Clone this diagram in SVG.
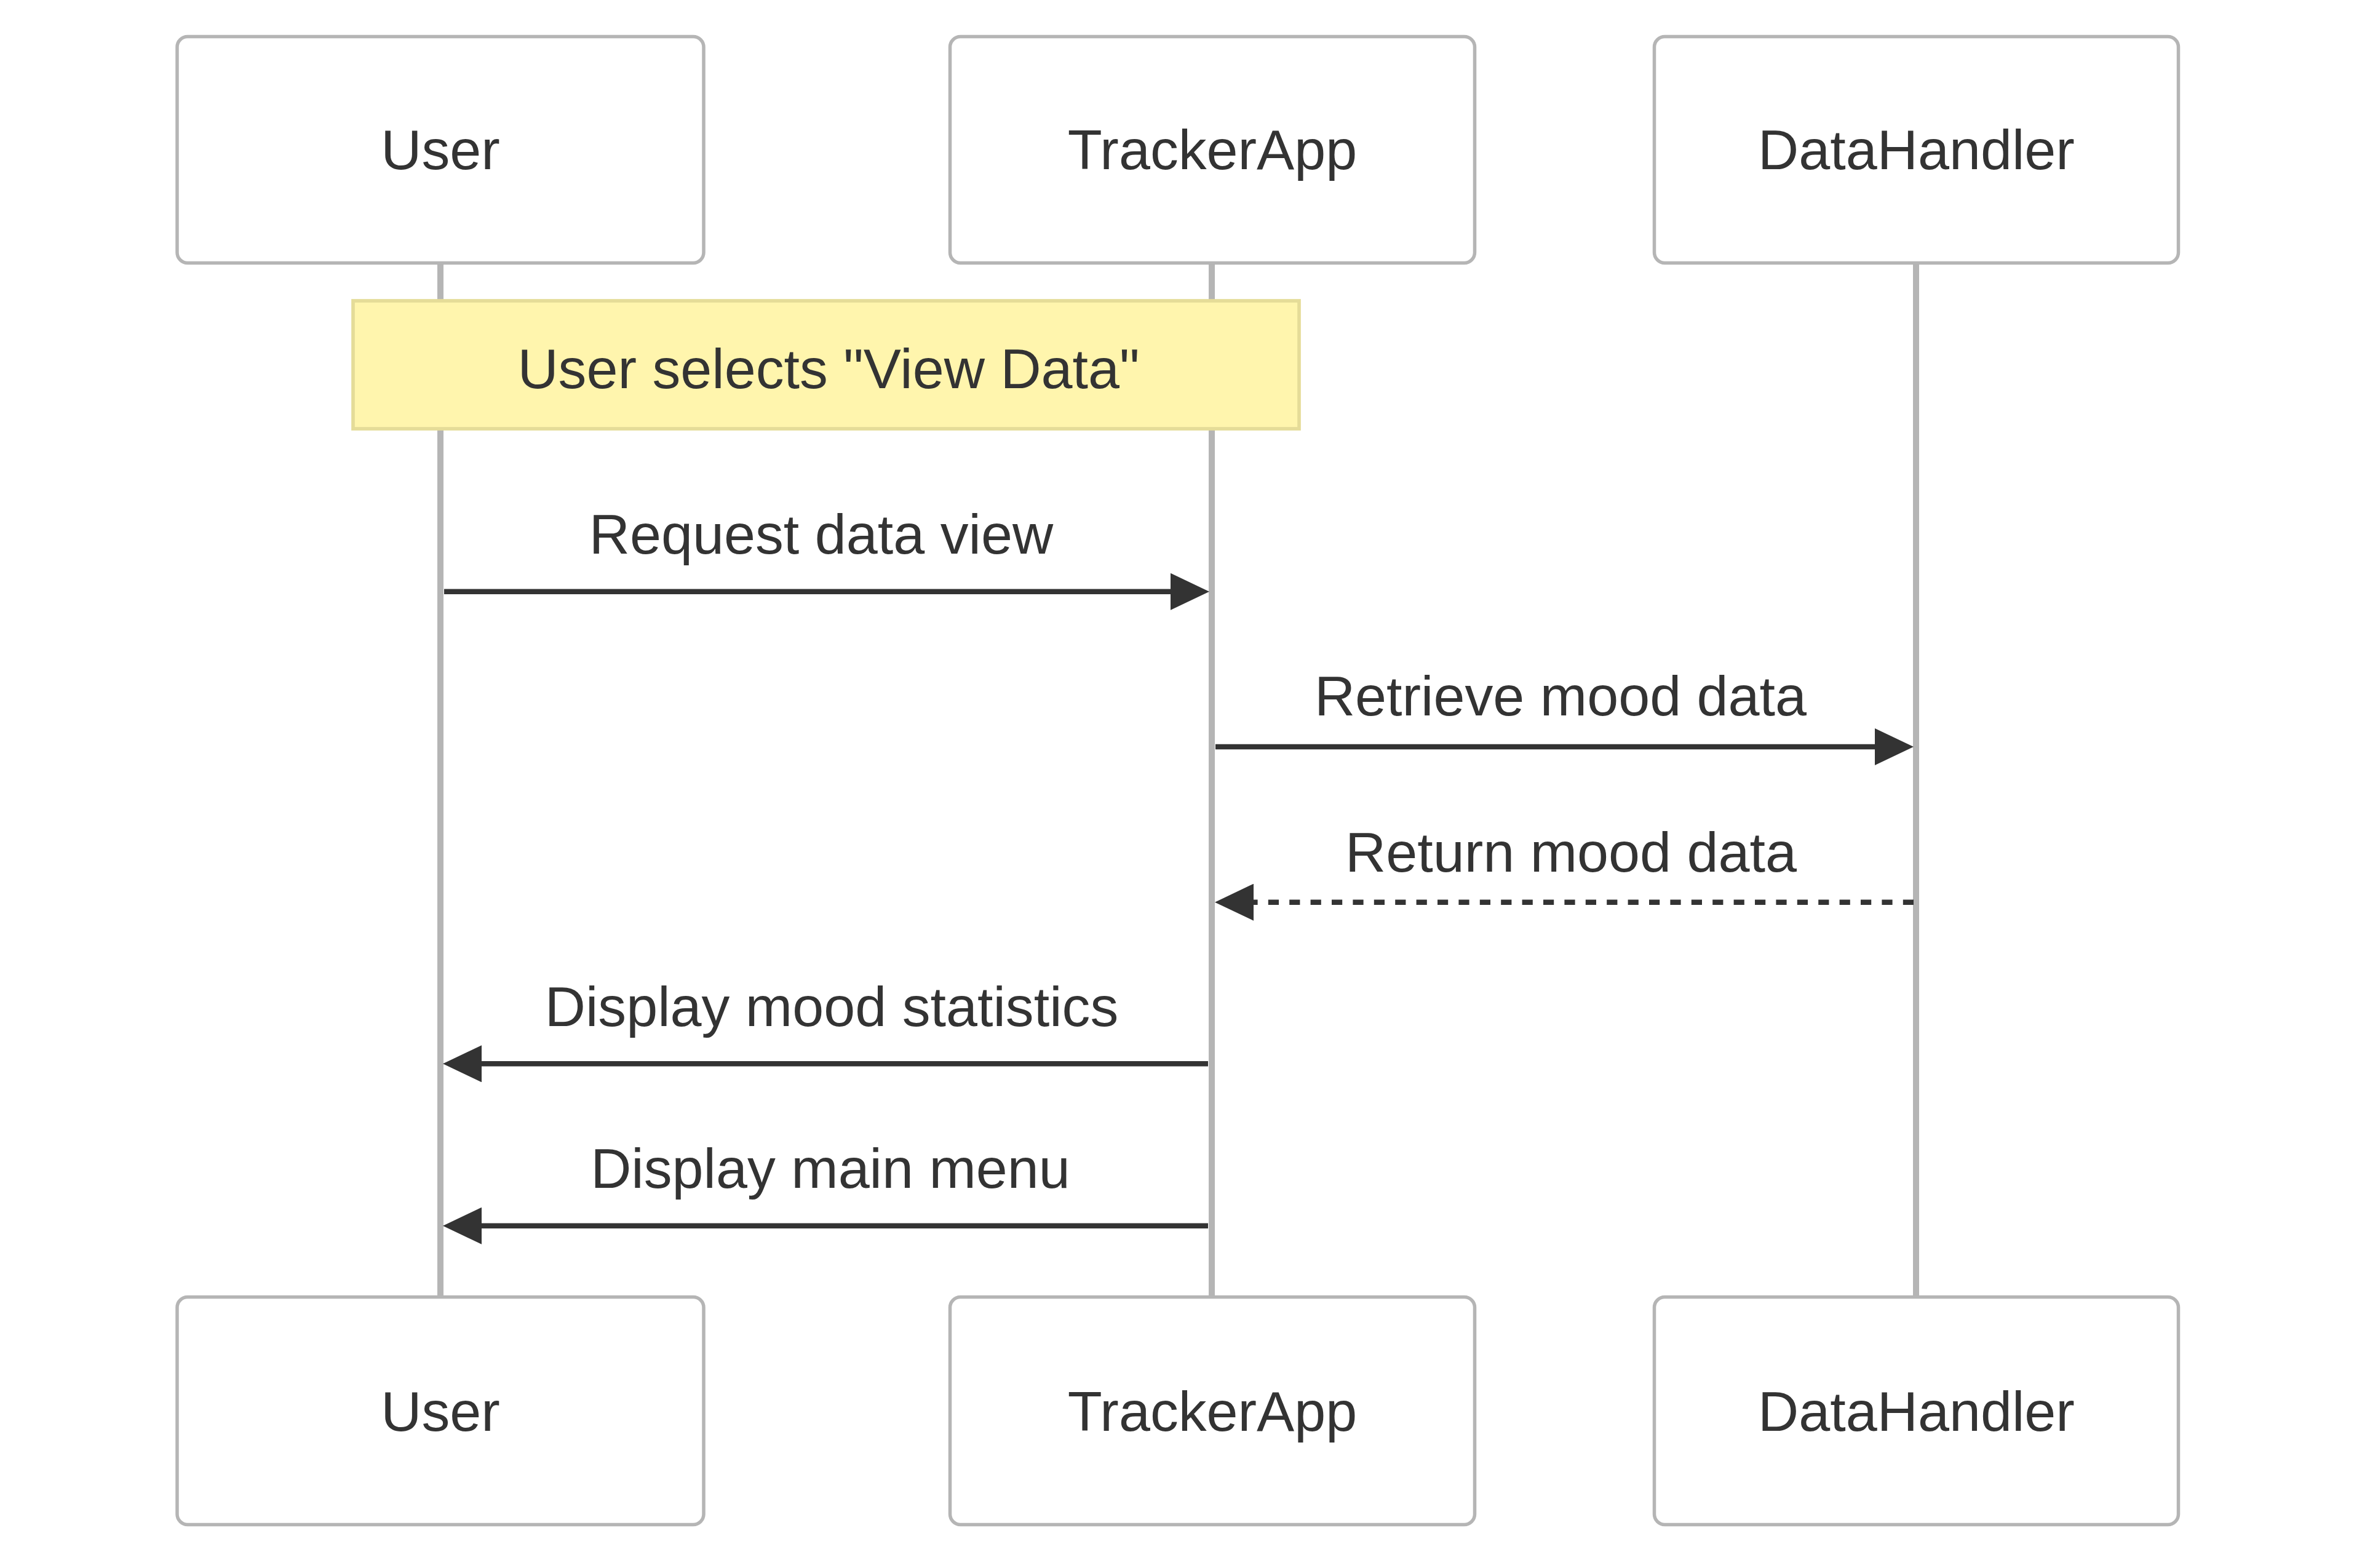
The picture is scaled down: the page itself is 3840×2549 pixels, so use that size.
<svg xmlns="http://www.w3.org/2000/svg" width="3840" height="2549" viewBox="0 0 3840 2549">
<style>
.actor{fill:#ffffff;stroke:#b5b5b5;stroke-width:5.5}
.actor-text{font-family:"Liberation Sans",Arial,sans-serif;font-size:91.7px;fill:#333333;text-anchor:middle}
.lifeline{stroke:#b5b5b5;stroke-width:10}
.note{fill:#fff5ad;stroke:#e5dc98;stroke-width:5.7}
.note-text{font-family:"Liberation Sans",Arial,sans-serif;font-size:91.7px;fill:#333333;text-anchor:middle}
.msg{stroke:#333333;stroke-width:8.6;fill:none}
.dashed{stroke-dasharray:17.2 17.2}
.msg-text{font-family:"Liberation Sans",Arial,sans-serif;font-size:91.7px;fill:#333333;text-anchor:middle}
</style>
<defs>
<marker id="arrowhead" viewBox="0 0 63 60" refX="51" refY="30" markerWidth="63" markerHeight="60" markerUnits="userSpaceOnUse" orient="auto">
<path d="M0,0 L63,30 L0,60 z" fill="#333333"/>
</marker>
</defs>
<rect width="3840" height="2549" fill="#ffffff"/>
<g id="lifelines">
<line class="lifeline" x1="716" y1="430" x2="716" y2="2106"/>
<line class="lifeline" x1="1970" y1="430" x2="1970" y2="2106"/>
<line class="lifeline" x1="3115" y1="430" x2="3115" y2="2106"/>
</g>
<g id="actor-user-top">
<rect class="actor" x="288" y="59.5" width="856" height="368" rx="17" ry="17"/>
<text class="actor-text" x="716" y="275">User</text>
</g>
<g id="actor-trackerapp-top">
<rect class="actor" x="1544.5" y="59.5" width="853" height="368" rx="17" ry="17"/>
<text class="actor-text" x="1971" y="275">TrackerApp</text>
</g>
<g id="actor-datahandler-top">
<rect class="actor" x="2689.5" y="59.5" width="852" height="368" rx="17" ry="17"/>
<text class="actor-text" x="3115.5" y="275">DataHandler</text>
</g>
<g id="note-view-data">
<rect class="note" x="574" y="489" width="1538" height="208"/>
<text class="note-text" x="1347" y="631">User selects "View Data"</text>
</g>
<g id="connectors">
<line class="msg" x1="722" y1="961.7" x2="1954" y2="961.7" marker-end="url(#arrowhead)"/>
<text class="msg-text" x="1335" y="900">Request data view</text>
<line class="msg" x1="1976" y1="1214" x2="3099" y2="1214" marker-end="url(#arrowhead)"/>
<text class="msg-text" x="2537" y="1163">Retrieve mood data</text>
<line class="msg dashed" x1="3111" y1="1466.7" x2="1987" y2="1466.7" marker-end="url(#arrowhead)"/>
<text class="msg-text" x="2554" y="1416.7">Return mood data</text>
<line class="msg" x1="1964" y1="1729.3" x2="732" y2="1729.3" marker-end="url(#arrowhead)"/>
<text class="msg-text" x="1352" y="1667.7">Display mood statistics</text>
<line class="msg" x1="1964" y1="1992.7" x2="732" y2="1992.7" marker-end="url(#arrowhead)"/>
<text class="msg-text" x="1350" y="1931">Display main menu</text>
</g>
<g id="actor-user-bottom">
<rect class="actor" x="288" y="2108.5" width="856" height="370" rx="17" ry="17"/>
<text class="actor-text" x="716" y="2326">User</text>
</g>
<g id="actor-trackerapp-bottom">
<rect class="actor" x="1544.5" y="2108.5" width="853" height="370" rx="17" ry="17"/>
<text class="actor-text" x="1971" y="2326">TrackerApp</text>
</g>
<g id="actor-datahandler-bottom">
<rect class="actor" x="2689.5" y="2108.5" width="852" height="370" rx="17" ry="17"/>
<text class="actor-text" x="3115.5" y="2326">DataHandler</text>
</g>
</svg>
